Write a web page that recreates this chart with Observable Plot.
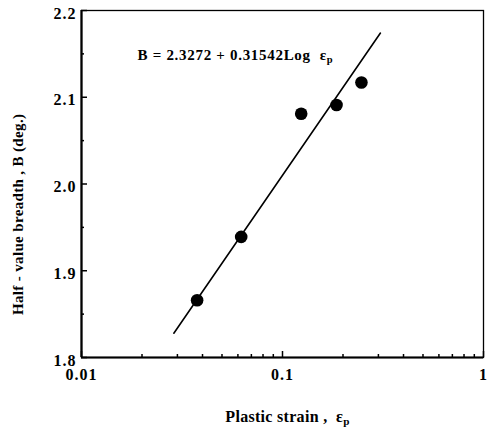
<!DOCTYPE html>
<html>
<head>
<meta charset="utf-8">
<script src="https://cdn.jsdelivr.net/npm/d3@7"></script>
<script src="https://cdn.jsdelivr.net/npm/@observablehq/plot@0.6"></script>
<style>
  html, body { margin: 0; padding: 0; background: #fff; }
  svg { font-family: "Liberation Serif", "DejaVu Serif", serif; font-weight: bold; }
  .lbl text { letter-spacing: 1px; }
  .eq text { letter-spacing: 0.7px; }
  .xtitle text { letter-spacing: 0.3px; }
  .ytitle text { letter-spacing: 0.35px; }
</style>
</head>
<body>
<div id="chart"></div>
<script>
// Measured points
const strain = [0.0376, 0.0623, 0.1239, 0.1857, 0.247];
const breadth = [1.866, 1.939, 2.081, 2.091, 2.117];
// Fitted line endpoints (as drawn)
const fitStrain = [0.0288, 0.307];
const fitBreadth = [1.828, 2.174];
// Ticks
const xMajor = [0.01, 0.1, 1];
const xMajorLabels = ["0.01", "0.1", "1"];
const xMinor = [0.02,0.03,0.04,0.05,0.06,0.07,0.08,0.09,0.2,0.3,0.4,0.5,0.6,0.7,0.8,0.9];
const yMajor = [1.8, 1.9, 2.0, 2.1, 2.2];
const yMinor = [1.85, 1.95, 2.05, 2.15];
// Annotation
const eqText = ["B = 2.3272 + 0.31542Log  ε"];
const eqStrain = [0.019];
const eqBreadth = [2.149];
const xTitle = "Plastic strain ,  ε";
const yTitle = "Half - value breadth , B (deg.)";
const yTitleAt = [1.965];

const points = strain.map((s, i) => ({s, b: breadth[i]}));
const fit = fitStrain.map((s, i) => ({s, b: fitBreadth[i]}));

const chart = Plot.plot({
  width: 487,
  height: 432,
  marginLeft: 81,
  marginRight: 4,
  marginTop: 10,
  marginBottom: 75,
  style: {fontFamily: "Liberation Serif, serif", fontWeight: "bold", background: "#fff"},
  x: {type: "log", domain: [0.01, 1], axis: null},
  y: {domain: [1.8, 2.2], axis: null},
  marks: [
    Plot.frame({stroke: "#000", strokeWidth: 1.3}),
    Plot.ruleX([0.01], {stroke: "#000", strokeWidth: 2.2}),
    Plot.ruleY([1.8], {stroke: "#000", strokeWidth: 2.2}),
    Plot.axisY({ticks: yMajor, tickSize: -6, tickFormat: () => "", label: null, strokeWidth: 1.5}),
    Plot.axisY({ticks: yMinor, tickSize: -3, tickFormat: () => "", label: null, strokeWidth: 1.5}),
    Plot.axisY({ticks: yMajor, tickSize: 0, tickPadding: 5, dy: 3, label: null, tickFormat: d3.format(".1f"), fontSize: 16, fontWeight: "bold", fill: "#000", className: "lbl"}),
    Plot.axisX({ticks: xMajor, tickSize: -6, tickFormat: () => "", label: null, strokeWidth: 1.5}),
    Plot.axisX({ticks: xMinor, tickSize: -3, tickFormat: () => "", label: null, strokeWidth: 1.5}),
    Plot.axisX({ticks: xMajor, tickSize: 0, tickPadding: 11, label: null, tickFormat: d => xMajorLabels[xMajor.indexOf(d)] ?? String(d), fontSize: 16, fontWeight: "bold", fill: "#000", className: "lbl"}),
    Plot.line(fit, {x: "s", y: "b", stroke: "#000", strokeWidth: 1.6}),
    Plot.dot(points, {x: "s", y: "b", r: 6.3, fill: "#000", stroke: "none"}),
    Plot.text(eqText, {x: eqStrain, y: eqBreadth, text: d => d, textAnchor: "start", fontSize: 15, fontWeight: "bold", fill: "#000", className: "eq"}),
    Plot.text([xTitle], {frameAnchor: "bottom", dx: 5, dy: 64, fontSize: 16, fontWeight: "bold", fill: "#000", className: "xtitle"}),
    Plot.text([yTitle], {y: yTitleAt, frameAnchor: "left", textAnchor: "middle", rotate: -90, dx: -63, fontSize: 15, fontWeight: "bold", fill: "#000", className: "ytitle"})
  ]
});

document.getElementById("chart").appendChild(chart);

// Add subscript "p" to the epsilon symbols
for (const cls of ["eq", "xtitle"]) {
  d3.select(chart).selectAll(`g.${cls} text`).each(function() {
    d3.select(this).append("tspan")
      .attr("font-size", "0.7em")
      .attr("dy", "0.3em")
      .text("p");
  });
}
</script>
</body>
</html>
